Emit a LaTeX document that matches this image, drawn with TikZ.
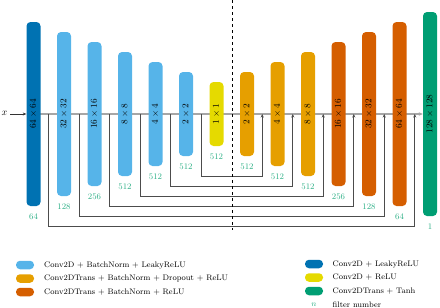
\documentclass[tikz,border=0pt]{standalone}
\usetikzlibrary{calc,backgrounds,arrows.meta}
\definecolor{cdb}{HTML}{0072B2}
\definecolor{clb}{HTML}{56B4E9}
\definecolor{cye}{RGB}{229,218,0}
\definecolor{cor}{HTML}{E69F00}
\definecolor{cve}{HTML}{D55E00}
\definecolor{cgr}{HTML}{009E73}
\definecolor{cnum}{HTML}{2AAE84}
\begin{document}
\begin{tikzpicture}[x=1pt,y=-1pt,
  blk/.style={rectangle, rounded corners=4pt, minimum width=14pt, inner sep=0pt, text=black, font=\fontsize{9.5}{10}\selectfont},
  num/.style={inner sep=0pt, text=cnum, font=\fontsize{8.5}{10}\selectfont},
  mainline/.style={draw=black!35, line width=1.3pt},
  skip/.style={draw=black!70, line width=0.55pt, -{Stealth[length=3.5pt,width=3pt]}},
  sw/.style={rectangle, rounded corners=4pt, minimum width=18pt, minimum height=8.5pt, inner sep=0pt},
  leg/.style={anchor=west, inner sep=0pt, font=\fontsize{8}{9}\selectfont}]
\useasboundingbox (0,0) rectangle (440,308);

% encoder
\node[blk, fill=cdb, minimum height=184pt] (e0) at (33.5,114) {\rotatebox{90}{$64\times 64$}};
\node[blk, fill=clb, minimum height=164pt] (e1) at (64,114) {\rotatebox{90}{$32\times 32$}};
\node[blk, fill=clb, minimum height=144pt] (e2) at (94.5,114) {\rotatebox{90}{$16\times 16$}};
\node[blk, fill=clb, minimum height=124pt] (e3) at (125,114) {\rotatebox{90}{$8\times 8$}};
\node[blk, fill=clb, minimum height=104pt] (e4) at (155.5,114) {\rotatebox{90}{$4\times 4$}};
\node[blk, fill=clb, minimum height=84pt] (e5) at (186,114) {\rotatebox{90}{$2\times 2$}};
\node[blk, fill=cye, minimum height=64pt] (e6) at (216.5,114) {\rotatebox{90}{$1\times 1$}};
% decoder
\node[blk, fill=cor, minimum height=84pt] (d7) at (247,114) {\rotatebox{90}{$2\times 2$}};
\node[blk, fill=cor, minimum height=104pt] (d8) at (277.5,114) {\rotatebox{90}{$4\times 4$}};
\node[blk, fill=cor, minimum height=124pt] (d9) at (308,114) {\rotatebox{90}{$8\times 8$}};
\node[blk, fill=cve, minimum height=144pt] (d10) at (338.5,114) {\rotatebox{90}{$16\times 16$}};
\node[blk, fill=cve, minimum height=164pt] (d11) at (369,114) {\rotatebox{90}{$32\times 32$}};
\node[blk, fill=cve, minimum height=184pt] (d12) at (399.5,114) {\rotatebox{90}{$64\times 64$}};
\node[blk, fill=cgr, minimum height=204pt] (g) at (430,114) {\rotatebox{90}{$128\times 128$}};

% filter numbers
\node[num] (n0) at ($(e0.south)+(0,10.5)$) {64};
\node[num] (n1) at ($(e1.south)+(0,10.5)$) {128};
\node[num] (n2) at ($(e2.south)+(0,10.5)$) {256};
\node[num] (n3) at ($(e3.south)+(0,10.5)$) {512};
\node[num] (n4) at ($(e4.south)+(0,10.5)$) {512};
\node[num] (n5) at ($(e5.south)+(0,10.5)$) {512};
\node[num] (n6) at ($(e6.south)+(0,10.5)$) {512};
\node[num] (n7) at ($(d7.south)+(0,10.5)$) {512};
\node[num] (n8) at ($(d8.south)+(0,10.5)$) {512};
\node[num] (n9) at ($(d9.south)+(0,10.5)$) {512};
\node[num] (n10) at ($(d10.south)+(0,10.5)$) {256};
\node[num] (n11) at ($(d11.south)+(0,10.5)$) {128};
\node[num] (n12) at ($(d12.south)+(0,10.5)$) {64};
\node[num] (n13) at ($(g.south)+(0,10.5)$) {1};

% input
\node[inner sep=0pt] (x) at (4.5,113) {$x$};
\draw[black!80, line width=0.5pt, -{Stealth[length=3.5pt,width=3pt]}] (x.east) ++(2.5,1) coordinate (xs) (xs) -- (e0.west);

% split points
\coordinate (s0) at ($(e0)!.5!(e1)$);
\coordinate (s1) at ($(e1)!.5!(e2)$);
\coordinate (s2) at ($(e2)!.5!(e3)$);
\coordinate (s3) at ($(e3)!.5!(e4)$);
\coordinate (s4) at ($(e4)!.5!(e5)$);
\coordinate (s5) at ($(e5)!.5!(e6)$);
\coordinate (t5) at ($(d7)!.5!(d8)$);
\coordinate (t4) at ($(d8)!.5!(d9)$);
\coordinate (t3) at ($(d9)!.5!(d10)$);
\coordinate (t2) at ($(d10)!.5!(d11)$);
\coordinate (t1) at ($(d11)!.5!(d12)$);
\coordinate (t0) at ($(d12)!.5!(g)$);

\begin{scope}[on background layer]
  \draw[mainline, -{Stealth[length=4pt,width=3.5pt]}] (e0.center) -- (g.west);
  \draw[skip] (s0) -- ++(0,112) -| (t0);
  \draw[skip] (s1) -- ++(0,102) -| (t1);
  \draw[skip] (s2) -- ++(0,92) -| (t2);
  \draw[skip] (s3) -- ++(0,82) -| (t3);
  \draw[skip] (s4) -- ++(0,72) -| (t4);
  \draw[skip] (s5) -- ++(0,62) -| (t5);
\end{scope}

% divider
\coordinate (dtop) at ($(e6)!.5!(d7)$);
\draw[black, line width=0.5pt, dashed] (dtop |- 0,0) -- (dtop |- 0,230);

% legend
\node[sw, fill=clb] (l1) at (25,265) {};
\node[leg] (l1t) at (44,265) {Conv2D + BatchNorm + LeakyReLU};
\node[sw, fill=cor] (l2) at (25,278.5) {};
\node[leg] (l2t) at (44,278.5) {Conv2DTrans + BatchNorm + Dropout + ReLU};
\node[sw, fill=cve] (l3) at (25,292) {};
\node[leg] (l3t) at (44,292) {Conv2DTrans + BatchNorm + ReLU};
\node[sw, fill=cdb] (r1) at (314,264) {};
\node[leg] (r1t) at (332.5,264) {Conv2D + LeakyReLU};
\node[sw, fill=cye] (r2) at (314,277.5) {};
\node[leg] (r2t) at (332.5,277.5) {Conv2D + ReLU};
\node[sw, fill=cgr] (r3) at (314,291) {};
\node[leg] (r3t) at (332.5,291) {Conv2DTrans + Tanh};
\node[num] (r4) at (314,304.5) {$n$};
\node[leg] (r4t) at (332.5,304.5) {filter number};
\end{tikzpicture}
\end{document}
